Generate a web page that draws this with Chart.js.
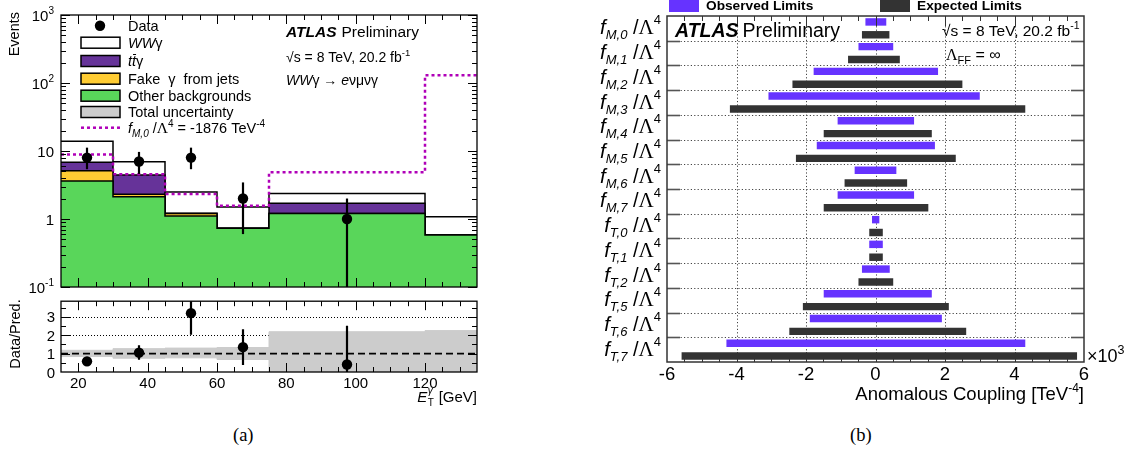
<!DOCTYPE html>
<html>
<head>
<meta charset="utf-8">
<script src="https://cdn.jsdelivr.net/npm/chart.js@4.4.1/dist/chart.umd.min.js"></script>
<style>
html,body{margin:0;padding:0;background:#ffffff;}
body{position:relative;width:1135px;height:459px;overflow:hidden;}
canvas{position:absolute;display:block;}
.cap{position:absolute;font-family:"Liberation Serif","Times New Roman",serif;font-size:18.5px;color:#000;}
</style>
</head>
<body>
<canvas id="cTop" width="495" height="296" style="left:0px;top:0px;"></canvas>
<canvas id="cRatio" width="495" height="124" style="left:0px;top:296px;"></canvas>
<canvas id="cLimits" width="575" height="420" style="left:560px;top:0px;"></canvas>
<div class="cap" style="left:233px;top:425px;">(a)</div>
<div class="cap" style="left:850px;top:425px;">(b)</div>
<script>
// ---------------- DATA (left panel) ----------------
const binEdges   = [15, 30, 45, 60, 75, 120, 135];
const otherBkg   = [3.62, 2.13, 1.11, 0.73, 1.20, 0.58];
const fakePhoton = [1.50, 0.18, 0.09, 0.00, 0.00, 0.00];
const ttGamma    = [1.70, 2.13, 0.02, 0.00, 0.50, 0.00];
const wwGamma    = [7.10, 2.52, 1.28, 0.77, 0.68, 0.50];
const fm0Signal  = [8.85, 4.54, 2.33, 1.57, 4.86, 130];
const dataX      = [22.5, 37.5, 52.5, 67.5, 97.5];
const dataN      = [8, 7, 8, 2, 1];
const dataLow    = [5.4, 4.6, 5.4, 0.6, 0.01];
const dataHigh   = [11.2, 9.7, 11.2, 3.45, 2.0];
const ratioVal   = [0.58, 1.05, 3.2, 1.35, 0.41];
const ratioLow   = [0.45, 0.66, 2.02, 0.38, 0];
const ratioHigh  = [0.72, 1.45, 4.3, 2.33, 2.52];
const uncLow     = [0.84, 0.75, 0.77, 0.68, 0, 0];
const uncHigh    = [1.18, 1.27, 1.30, 1.33, 2.19, 2.25];
const logTicks      = [0.1, 1, 10, 100, 1000];
const logTickLabels = [['10','-1'], ['1',''], ['10',''], ['10','2'], ['10','3']];
const ratioTicks    = [0, 1, 2, 3];
const ratioGrid     = [2, 3];
const etTicks       = [20, 40, 60, 80, 100, 120];

// ---------------- DATA (right panel, x 10^3 TeV^-4) ----------------
const couplings = ['M,0','M,1','M,2','M,3','M,4','M,5','M,6','M,7','T,0','T,1','T,2','T,5','T,6','T,7'];
const obsLow  = [-0.29, -0.49, -1.78, -3.08, -1.09, -1.69, -0.60, -1.09, -0.10, -0.18, -0.39, -1.49, -1.89, -4.29];
const obsHigh = [ 0.31,  0.51,  1.80,  3.00,  1.11,  1.71,  0.60,  1.11,  0.11,  0.21,  0.41,  1.62,  1.91,  4.31];
const expLow  = [-0.39, -0.79, -2.39, -4.19, -1.49, -2.29, -0.89, -1.49, -0.18, -0.18, -0.49, -2.09, -2.48, -5.58];
const expHigh = [ 0.40,  0.70,  2.50,  4.31,  1.62,  2.31,  0.91,  1.52,  0.21,  0.21,  0.51,  2.11,  2.61,  5.80];
const limitTicks = [-6, -4, -2, 0, 2, 4, 6];

// ---------------- helpers ----------------
const SANS = '"Liberation Sans", Arial, Helvetica, sans-serif';
const SERIF = '"Liberation Serif", "Times New Roman", serif';
function F(size, style){ return (style ? style + ' ' : '') + size + 'px ' + SANS; }
function FS(size){ return size + 'px ' + SERIF; }
function seg(ctx, x1, y1, x2, y2){ ctx.beginPath(); ctx.moveTo(x1, y1); ctx.lineTo(x2, y2); ctx.stroke(); }
function rich(ctx, x, y, parts, align){
  let w = 0;
  parts.forEach(p => { ctx.font = p.f; p.w = ctx.measureText(p.t).width + (p.gap || 0); w += p.w; });
  let cx = align === 'right' ? x - w : (align === 'center' ? x - w / 2 : x);
  ctx.textAlign = 'left'; ctx.textBaseline = 'alphabetic';
  parts.forEach(p => {
    ctx.font = p.f; ctx.fillStyle = p.c || '#000';
    ctx.fillText(p.t, cx, y + (p.dy || 0));
    if (p.over){ ctx.strokeStyle = '#000'; ctx.lineWidth = 1; ctx.setLineDash([]); seg(ctx, cx + 1, y - 11.5, cx + p.w, y - 11.5); }
    cx += p.w;
  });
  return w;
}
function steps(vals){
  const p = vals.map((v, i) => ({x: binEdges[i], y: v}));
  p.push({x: binEdges[binEdges.length - 1], y: vals[vals.length - 1]});
  return p;
}
function cumsum(...arrs){ return arrs[0].map((_, i) => arrs.reduce((s, a) => s + a[i], 0)); }

const stackGreen  = otherBkg;
const stackYellow = cumsum(otherBkg, fakePhoton);
const stackPurple = cumsum(otherBkg, fakePhoton, ttGamma);
const stackWhite  = cumsum(otherBkg, fakePhoton, ttGamma, wwGamma);

const C_GREEN = '#59d65a', C_YELLOW = '#ffcc33', C_PURPLE = '#663399', C_GRAY = '#cccccc', C_MAG = '#b000b8';

function drawXTicks(ctx, a, x){
  ctx.strokeStyle = '#000'; ctx.lineWidth = 1; ctx.setLineDash([]);
  for (let v = 20; v <= 130; v += 5){
    const px = Math.round(x.getPixelForValue(v)) + 0.5;
    const len = (v % 20 === 0) ? 9 : 5;
    seg(ctx, px, a.bottom, px, a.bottom - len);
    seg(ctx, px, a.top, px, a.top + len);
  }
}

// ---------------- top (log) panel ----------------
const topPlugin = {
  id: 'topDeco',
  afterDatasetsDraw(chart){
    const {ctx, chartArea: a, scales: {x, y}} = chart;
    ctx.save();
    ctx.beginPath(); ctx.rect(a.left, a.top, a.right - a.left, a.bottom - a.top); ctx.clip();
    ctx.strokeStyle = '#000'; ctx.lineWidth = 2.2; ctx.setLineDash([]);
    dataX.forEach((dx, i) => {
      const px = x.getPixelForValue(dx);
      seg(ctx, px, y.getPixelForValue(Math.max(dataLow[i], 0.05)), px, y.getPixelForValue(dataHigh[i]));
    });
    ctx.restore();
  },
  afterDraw(chart){
    const {ctx, chartArea: a, scales: {x, y}} = chart;
    ctx.save();
    drawXTicks(ctx, a, x);
    // log ticks
    logTicks.forEach((base, d) => {
      const py = Math.round(y.getPixelForValue(base)) + 0.5;
      seg(ctx, a.left, py, a.left + 9, py); seg(ctx, a.right, py, a.right - 9, py);
      if (d < logTicks.length - 1){
        for (let k = 2; k <= 9; k++){
          const pm = Math.round(y.getPixelForValue(base * k)) + 0.5;
          seg(ctx, a.left, pm, a.left + 5, pm); seg(ctx, a.right, pm, a.right - 5, pm);
        }
      }
      const lab = logTickLabels[d];
      const parts = [{t: lab[0], f: F(15)}];
      if (lab[1]) parts.push({t: lab[1], f: F(10), dy: -7});
      rich(ctx, 54, y.getPixelForValue(base) + 5.5, parts, 'right');
    });
    // frame
    ctx.lineWidth = 1.3; ctx.strokeStyle = '#000';
    ctx.strokeRect(a.left, a.top, a.right - a.left, a.bottom - a.top);
    // y title
    ctx.save(); ctx.translate(15, 12); ctx.rotate(-Math.PI / 2);
    ctx.font = F(14.5); ctx.fillStyle = '#000'; ctx.textAlign = 'right'; ctx.textBaseline = 'middle';
    ctx.fillText('Events', 0, 0); ctx.restore();
    // legend
    const rows = [25.7, 42.7, 61, 78.7, 95.7, 112, 127.7];
    const bx = 81, bw = 39, bh = 11, tx = 128;
    ctx.fillStyle = '#000'; ctx.beginPath(); ctx.arc(100, rows[0], 5.2, 0, Math.PI * 2); ctx.fill();
    const boxes = [['#ffffff', 1], [C_PURPLE, 2], [C_YELLOW, 3], [C_GREEN, 4], [C_GRAY, 5]];
    boxes.forEach(([col, r]) => {
      ctx.fillStyle = col; ctx.fillRect(bx, rows[r] - bh / 2, bw, bh);
      ctx.strokeStyle = '#000'; ctx.lineWidth = 1.5; ctx.strokeRect(bx, rows[r] - bh / 2, bw, bh);
    });
    ctx.strokeStyle = C_MAG; ctx.lineWidth = 2.5; ctx.setLineDash([3, 3]);
    seg(ctx, bx, rows[6], bx + bw, rows[6]); ctx.setLineDash([]);
    const L = 14.5;
    rich(ctx, tx, rows[0] + 5, [{t: 'Data', f: F(L)}]);
    rich(ctx, tx, rows[1] + 5, [{t: 'WW', f: F(L, 'italic')}, {t: 'γ', f: F(L)}]);
    rich(ctx, tx, rows[2] + 5, [{t: 't', f: F(L, 'italic')}, {t: 't', f: F(L, 'italic'), over: true}, {t: 'γ', f: F(L)}]);
    rich(ctx, tx, rows[3] + 5, [{t: 'Fake  γ  from jets', f: F(L)}]);
    rich(ctx, tx, rows[4] + 5, [{t: 'Other backgrounds', f: F(L)}]);
    rich(ctx, tx, rows[5] + 5, [{t: 'Total uncertainty', f: F(L)}]);
    rich(ctx, tx, rows[6] + 5, [
      {t: 'f', f: F(L, 'italic')}, {t: 'M,0', f: F(10, 'italic'), dy: 4}, {t: ' /', f: F(L)},
      {t: 'Λ', f: FS(L + 1)}, {t: '4', f: F(10), dy: -6}, {t: ' = -1876 TeV', f: F(L)}, {t: '-4', f: F(10), dy: -6}
    ]);
    // ATLAS labels
    let w = rich(ctx, 286, 37, [{t: 'ATLAS', f: F(15.5, 'italic bold')}]);
    rich(ctx, 286 + w + 5, 37, [{t: 'Preliminary', f: F(15.5)}]);
    rich(ctx, 286, 62, [{t: '√s = 8 TeV, 20.2 fb', f: F(14)}, {t: '-1', f: F(9.5), dy: -6}]);
    rich(ctx, 286, 85, [{t: 'WW', f: F(14, 'italic')}, {t: 'γ → ', f: F(14)}, {t: 'e', f: F(14, 'italic')}, {t: 'νμνγ', f: F(14)}]);
    ctx.restore();
  }
};

new Chart(document.getElementById('cTop'), {
  type: 'line',
  data: {
    datasets: [
      {label: 'Data', data: dataX.map((x, i) => ({x, y: dataN[i]})), showLine: false,
       pointRadius: 5.2, pointBackgroundColor: '#000', pointBorderColor: '#000', pointBorderWidth: 0},
      {label: 'fM0', data: steps(fm0Signal), stepped: true, fill: false, borderColor: C_MAG,
       borderWidth: 2.5, borderDash: [3, 3], pointRadius: 0},
      {label: 'Other backgrounds', data: steps(stackGreen), stepped: true, fill: 'start',
       backgroundColor: C_GREEN, borderColor: '#000', borderWidth: 1.5, pointRadius: 0},
      {label: 'Fake', data: steps(stackYellow), stepped: true, fill: 'start',
       backgroundColor: C_YELLOW, borderColor: '#000', borderWidth: 1.5, pointRadius: 0},
      {label: 'ttgamma', data: steps(stackPurple), stepped: true, fill: 'start',
       backgroundColor: C_PURPLE, borderColor: '#000', borderWidth: 1.5, pointRadius: 0},
      {label: 'WWgamma', data: steps(stackWhite), stepped: true, fill: 'start',
       backgroundColor: '#ffffff', borderColor: '#000', borderWidth: 1.5, pointRadius: 0}
    ]
  },
  options: {
    responsive: false, animation: false, devicePixelRatio: 1, events: [],
    layout: {padding: {left: 61, right: 18, top: 15, bottom: 9}},
    plugins: {legend: {display: false}, tooltip: {enabled: false}},
    scales: {
      x: {type: 'linear', min: 15, max: 135, display: false},
      y: {type: 'logarithmic', min: 0.1, max: 1000, display: false}
    }
  },
  plugins: [topPlugin]
});

// ---------------- ratio panel ----------------
const ratioPlugin = {
  id: 'ratioDeco',
  beforeDatasetsDraw(chart){
    const {ctx, chartArea: a, scales: {y}} = chart;
    ctx.save(); ctx.strokeStyle = '#000'; ctx.lineWidth = 1; ctx.setLineDash([1, 2]);
    ratioGrid.forEach(v => { const py = Math.round(y.getPixelForValue(v)) + 0.5; seg(ctx, a.left, py, a.right, py); });
    ctx.restore();
  },
  afterDatasetsDraw(chart){
    const {ctx, chartArea: a, scales: {x, y}} = chart;
    ctx.save();
    ctx.beginPath(); ctx.rect(a.left, a.top, a.right - a.left, a.bottom - a.top); ctx.clip();
    ctx.strokeStyle = '#000'; ctx.lineWidth = 2.2; ctx.setLineDash([]);
    dataX.forEach((dx, i) => {
      const px = x.getPixelForValue(dx);
      seg(ctx, px, y.getPixelForValue(ratioLow[i]), px, y.getPixelForValue(ratioHigh[i]));
    });
    ctx.restore();
  },
  afterDraw(chart){
    const {ctx, chartArea: a, scales: {x, y}} = chart;
    ctx.save();
    drawXTicks(ctx, a, x);
    for (let v = 0.5; v < 3.9; v += 0.5){
      const py = Math.round(y.getPixelForValue(v)) + 0.5;
      const len = (v % 1 === 0) ? 9 : 5;
      seg(ctx, a.left, py, a.left + len, py); seg(ctx, a.right, py, a.right - len, py);
    }
    ctx.lineWidth = 1.3; ctx.strokeRect(a.left, a.top, a.right - a.left, a.bottom - a.top);
    ratioTicks.forEach(v => rich(ctx, 55, y.getPixelForValue(v) + 5.5, [{t: String(v), f: F(15)}], 'right'));
    etTicks.forEach(v => rich(ctx, x.getPixelForValue(v), 91.5, [{t: String(v), f: F(15)}], 'center'));
    // y title
    ctx.save(); ctx.translate(16, 38); ctx.rotate(-Math.PI / 2);
    ctx.font = F(14.5); ctx.fillStyle = '#000'; ctx.textAlign = 'center'; ctx.textBaseline = 'middle';
    ctx.fillText('Data/Pred.', 0, 0); ctx.restore();
    // x title  E_T^gamma [GeV]
    ctx.font = F(15, 'italic'); const wE = ctx.measureText('E').width;
    ctx.font = F(10); const wS = Math.max(ctx.measureText('T').width, ctx.measureText('γ').width) + 1;
    ctx.font = F(15); const wG = ctx.measureText(' [GeV]').width;
    const x0 = a.right - (wE + wS + wG), base = 106;
    ctx.fillStyle = '#000'; ctx.textAlign = 'left'; ctx.textBaseline = 'alphabetic';
    ctx.font = F(15, 'italic'); ctx.fillText('E', x0, base);
    ctx.font = F(10); ctx.fillText('T', x0 + wE + 0.5, base + 4);
    ctx.font = F(10, 'italic'); ctx.fillText('γ', x0 + wE + 0.5, base - 8);
    ctx.font = F(15); ctx.fillText(' [GeV]', x0 + wE + wS, base);
    ctx.restore();
  }
};

new Chart(document.getElementById('cRatio'), {
  type: 'line',
  data: {
    datasets: [
      {label: 'ratio', data: dataX.map((x, i) => ({x, y: ratioVal[i]})), showLine: false,
       pointRadius: 5.2, pointBackgroundColor: '#000', pointBorderColor: '#000', pointBorderWidth: 0},
      {label: 'unity', data: [{x: binEdges[0], y: 1}, {x: binEdges[binEdges.length - 1], y: 1}],
       borderColor: '#000', borderWidth: 1.6, borderDash: [7, 4], pointRadius: 0, fill: false},
      {label: 'uncHigh', data: steps(uncHigh), stepped: true, fill: '+1', backgroundColor: C_GRAY,
       borderColor: C_GRAY, borderWidth: 1, pointRadius: 0},
      {label: 'uncLow', data: steps(uncLow), stepped: true, fill: false, borderColor: C_GRAY,
       borderWidth: 1, pointRadius: 0}
    ]
  },
  options: {
    responsive: false, animation: false, devicePixelRatio: 1, events: [],
    layout: {padding: {left: 61, right: 18, top: 3, bottom: 48}},
    plugins: {legend: {display: false}, tooltip: {enabled: false}},
    scales: {
      x: {type: 'linear', min: 15, max: 135, display: false},
      y: {type: 'linear', min: 0, max: 3.85, display: false}
    }
  },
  plugins: [ratioPlugin]
});

// ---------------- right panel: limits ----------------
const OX = 560;
const limitsPlugin = {
  id: 'limitsDeco',
  beforeDatasetsDraw(chart){
    const {ctx, chartArea: a, scales: {x, y}} = chart;
    ctx.save(); ctx.strokeStyle = '#444'; ctx.lineWidth = 1; ctx.setLineDash([1.2, 2.2]);
    limitTicks.forEach(v => {
      if (v <= -6 || v >= 6) return;
      const px = Math.round(x.getPixelForValue(v)) + 0.5; seg(ctx, px, a.top, px, a.bottom);
    });
    for (let i = 0; i < couplings.length - 1; i++){
      const py = Math.round((y.getPixelForValue(i) + y.getPixelForValue(i + 1)) / 2) + 0.5;
      seg(ctx, a.left, py, a.right, py);
    }
    ctx.restore();
  },
  afterDraw(chart){
    const {ctx, chartArea: a, scales: {x, y}} = chart;
    ctx.save(); ctx.setLineDash([]);
    // x ticks
    ctx.strokeStyle = '#333'; ctx.lineWidth = 1;
    for (let v = -5.5; v < 6; v += 0.5){
      const px = Math.round(x.getPixelForValue(v)) + 0.5;
      const len = (Math.abs(v) % 2 === 0) ? 10 : 5;
      seg(ctx, px, a.bottom, px, a.bottom - len); seg(ctx, px, a.top, px, a.top + len);
    }
    // y ticks at band boundaries
    ctx.strokeStyle = '#555'; ctx.lineWidth = 1.6;
    for (let i = 0; i < couplings.length - 1; i++){
      const py = Math.round((y.getPixelForValue(i) + y.getPixelForValue(i + 1)) / 2) + 0.5;
      seg(ctx, a.left, py, a.left + 13, py); seg(ctx, a.right, py, a.right - 13, py);
    }
    // frame
    ctx.strokeStyle = '#333'; ctx.lineWidth = 1.5;
    ctx.strokeRect(a.left, a.top, a.right - a.left, a.bottom - a.top);
    // y labels
    couplings.forEach((c, i) => {
      const cy = y.getPixelForValue(i);
      rich(ctx, a.left - 6, cy + 6, [
        {t: 'f', f: F(20.5, 'italic')}, {t: c, f: F(13, 'italic'), dy: 5},
        {t: ' /', f: F(20)}, {t: 'Λ', f: FS(21)}, {t: '4', f: F(13), dy: -10}
      ], 'right');
    });
    // x tick labels
    limitTicks.forEach(v => rich(ctx, x.getPixelForValue(v), 380, [{t: String(v), f: F(18.5)}], 'center'));
    // x title
    rich(ctx, a.right, 400, [{t: 'Anomalous Coupling [TeV', f: F(18.5)}, {t: '-4', f: F(12), dy: -8}, {t: ']', f: F(18.5)}], 'right');
    rich(ctx, a.right + 3, 362, [{t: '×10', f: F(18)}, {t: '3', f: F(12.5), dy: -8}]);
    // legend (partly cut at top)
    ctx.fillStyle = '#6633ff'; ctx.fillRect(669 - OX, -6, 30, 18);
    ctx.fillStyle = '#333333'; ctx.fillRect(880 - OX, -6, 30, 18);
    rich(ctx, 706 - OX, 9.5, [{t: 'Observed Limits', f: F(13.7, 'bold')}]);
    rich(ctx, 917 - OX, 9.5, [{t: 'Expected Limits', f: F(13.7, 'bold')}]);
    // ATLAS
    const w = rich(ctx, 675 - OX, 37, [{t: 'ATLAS', f: F(19.5, 'italic bold')}]);
    rich(ctx, 675 - OX + w + 4, 37, [{t: 'Preliminary', f: F(19.5)}]);
    rich(ctx, 942 - OX, 36, [{t: '√s = 8 TeV, 20.2 fb', f: F(15.5)}, {t: '-1', f: F(10.5), dy: -7}]);
    rich(ctx, 946 - OX, 60, [{t: 'Λ', f: FS(16)}, {t: 'FF', f: F(11), dy: 4}, {t: ' = ∞', f: F(16)}]);
    ctx.restore();
  }
};

new Chart(document.getElementById('cLimits'), {
  type: 'bar',
  data: {
    labels: couplings,
    datasets: [
      {label: 'Observed Limits', data: obsLow.map((l, i) => [l, obsHigh[i]]), backgroundColor: '#6633ff',
       borderWidth: 0, borderSkipped: false, categoryPercentage: 1.04, barPercentage: 0.58},
      {label: 'Expected Limits', data: expLow.map((l, i) => [l, expHigh[i]]), backgroundColor: '#333333',
       borderWidth: 0, borderSkipped: false, categoryPercentage: 1.04, barPercentage: 0.58}
    ]
  },
  options: {
    indexAxis: 'y',
    responsive: false, animation: false, devicePixelRatio: 1, events: [],
    layout: {padding: {left: 107, right: 51, top: 16, bottom: 58}},
    plugins: {legend: {display: false}, tooltip: {enabled: false}},
    scales: {
      x: {type: 'linear', min: -6, max: 6, display: false},
      y: {type: 'category', display: false}
    }
  },
  plugins: [limitsPlugin]
});
</script>
</body>
</html>
